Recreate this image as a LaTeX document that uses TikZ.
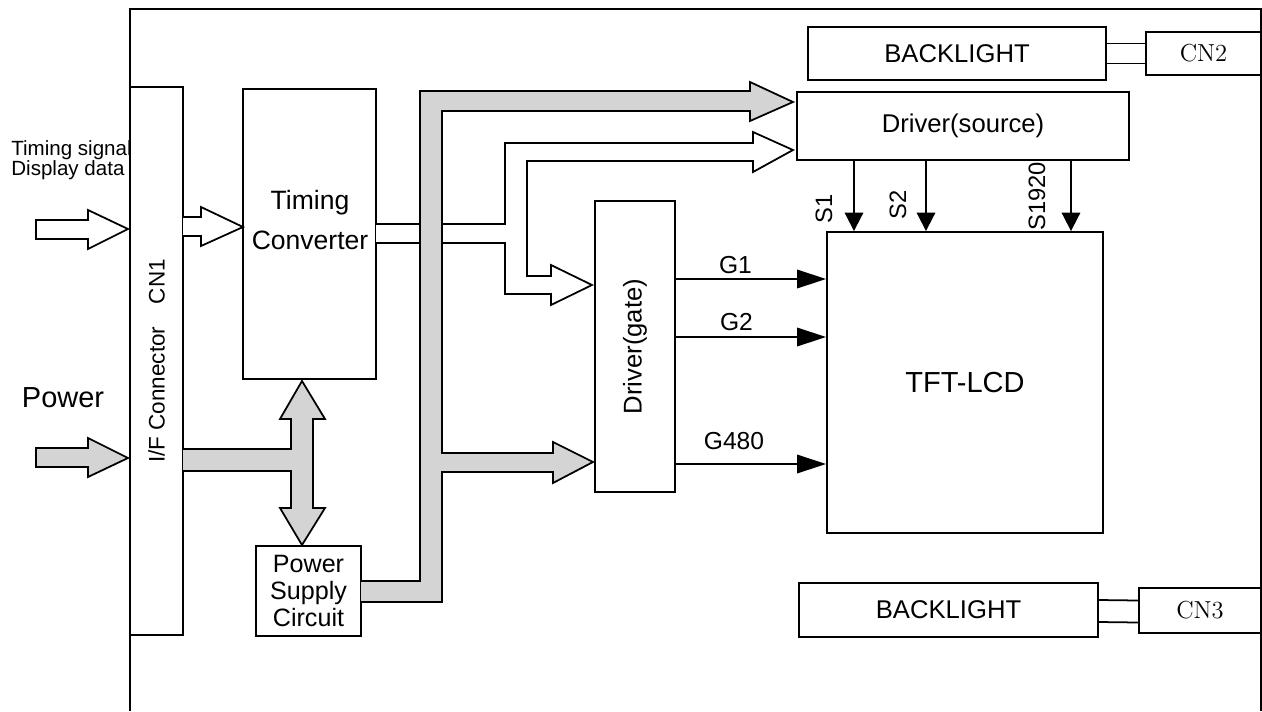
\documentclass[tikz,border=0pt]{standalone}
\usepackage{fontspec}
\setsansfont{Liberation Sans}
\usepackage{graphicx}
\usepackage{tikz}
\usetikzlibrary{calc,arrows.meta}
\tikzstyle{box} = [draw, line width=1.1pt, inner sep=0pt, font=\sffamily\fontsize{14.6}{17}\selectfont]
\tikzstyle{txt} = [inner sep=0pt, font=\sffamily\fontsize{14}{16}\selectfont]
\tikzstyle{bus} = [draw, line width=1pt, fill=black!17]
\tikzstyle{hollow} = [draw, line width=1pt, fill=white]
\tikzstyle{gline} = [draw, line width=1.1pt, -{Triangle[length=16.5pt,width=10.5pt]}]
\tikzstyle{sline} = [draw, line width=1.1pt, -{Triangle[length=10.5pt,width=10.5pt]}]

\begin{document}
\begin{tikzpicture}[x=0.02cm, y=-0.02cm]
	\useasboundingbox (0,0) rectangle (1262,711);
	\draw[line width=1pt] (130,711) -- (130,9) -- (1261,9) -- (1261,711);

	\node[box, minimum width=1.06cm, minimum height=10.96cm] (cn1) at (156.5,361) {\rotatebox{90}{\fontsize{12.8}{15}\selectfont I/F Connector\quad CN1}};
	\node[box, minimum width=2.66cm, minimum height=5.8cm] (tc) at (309.5,234) {};
	\node[txt, align=center, font=\sffamily\fontsize{15.1}{22.8}\selectfont] (tctext) at (310,220) {Timing\\Converter};
	\node[box, minimum width=2.1cm, minimum height=1.8cm, align=center, font=\sffamily\fontsize{14.3}{15.4}\selectfont] (psc) at (308.5,591) {Power\\Supply\\Circuit};
	\node[box, minimum width=1.6cm, minimum height=5.82cm] (gate) at (635,346.5) {\rotatebox{90}{Driver(gate)}};
	\node[box, minimum width=6.64cm, minimum height=1.36cm] (src) at (963,126) {Driver(source)};
	\node[box, minimum width=5.52cm, minimum height=6.02cm, font=\sffamily\fontsize{16.5}{18}\selectfont] (lcd) at (965,382.5) {TFT-LCD};
	\node[box, minimum width=5.96cm, minimum height=1.06cm] (bl1) at (957,53.5) {BACKLIGHT};
	\node[box, minimum width=2.3cm, minimum height=0.86cm, font=\rmfamily\fontsize{14}{16}\selectfont] (cn2) at (1203.5,53.5) {CN2};
	\node[box, minimum width=5.98cm, minimum height=1.08cm] (bl2) at (948.5,610) {BACKLIGHT};
	\node[box, minimum width=2.44cm, minimum height=0.9cm, font=\rmfamily\fontsize{14}{16}\selectfont] (cn3) at (1200,610.5) {CN3};

	\node[txt, anchor=west, align=left, font=\sffamily\fontsize{11.7}{11.5}\selectfont] (tsig) at (11,160) {Timing signal\\Display data};
	\node[txt, font=\sffamily\fontsize{16.5}{18}\selectfont] (pwr) at (63,398) {Power};

	\draw[line width=1pt] ($(bl1.east)+(0,-10)$) -- ($(cn2.west)+(0,-10)$);
	\draw[line width=1pt] ($(bl1.east)+(0,10)$) -- ($(cn2.west)+(0,10)$);
	\draw[line width=1pt] ($(bl2.east)+(0,-10)$) -- ($(cn3.west)+(0,-10)$);
	\draw[line width=1pt] ($(bl2.east)+(0,12)$) -- ($(cn3.west)+(0,12)$);

	\draw[hollow] (36,220) -- (88,220) -- (88,210) -- (128,229) -- (88,249) -- (88,239) -- (36,239) -- cycle;
	\draw[bus] (36,448) -- (88,448) -- (88,438) -- (128,458) -- (88,477) -- (88,467) -- (36,467) -- cycle;
	\draw[hollow] (183,217) -- (201,217) -- (201,207) -- (243,227) -- (201,246) -- (201,236) -- (183,236);
	\draw[bus] (183,449) -- (291,449) -- (291,419) -- (280,419) -- (302,381) -- (325,419) -- (313,419) -- (313,508) -- (325,508) -- (302,545) -- (280,508) -- (291,508) -- (291,471) -- (183,471);
	\draw[hollow] (376,224) -- (505,224) -- (505,143) -- (753,143) -- (753,132) -- (793,150) -- (753,172) -- (753,161) -- (527,161) -- (527,276) -- (551,276) -- (551,265) -- (592,285) -- (551,305) -- (551,294) -- (505,294) -- (505,243) -- (376,243);
	\draw[bus] (361,581) -- (420,581) -- (420,91) -- (750,91) -- (750,82) -- (793,102) -- (750,121) -- (750,111) -- (442,111) -- (442,453) -- (553,453) -- (553,442) -- (593,462) -- (553,483) -- (553,472) -- (442,472) -- (442,602) -- (361,602);

	\path (700,279) coordinate (g1) (700,337) coordinate (g2) (700,464) coordinate (g480);
	\draw[gline] (gate.east |- g1) -- (lcd.west |- g1);
	\draw[gline] (gate.east |- g2) -- (lcd.west |- g2);
	\draw[gline] (gate.east |- g480) -- (lcd.west |- g480);
	\node[txt] (g1l) at (735.5,265) {G1};
	\node[txt] (g2l) at (736.5,322.5) {G2};
	\node[txt] (g480l) at (734,441.5) {G480};

	\path (854,200) coordinate (s1) (926,200) coordinate (s2) (1071,200) coordinate (s1920);
	\draw[sline] (src.south -| s1) -- (lcd.north -| s1);
	\draw[sline] (src.south -| s2) -- (lcd.north -| s2);
	\draw[sline] (src.south -| s1920) -- (lcd.north -| s1920);
	\node[txt, rotate=90, font=\sffamily\fontsize{13.5}{15}\selectfont] (s1l) at (824,209) {S1};
	\node[txt, rotate=90, font=\sffamily\fontsize{13.5}{15}\selectfont] (s2l) at (898,205) {S2};
	\node[txt, rotate=90, font=\sffamily\fontsize{13.5}{15}\selectfont] (s1920l) at (1037,196.5) {S1920};
\end{tikzpicture}
\end{document}
